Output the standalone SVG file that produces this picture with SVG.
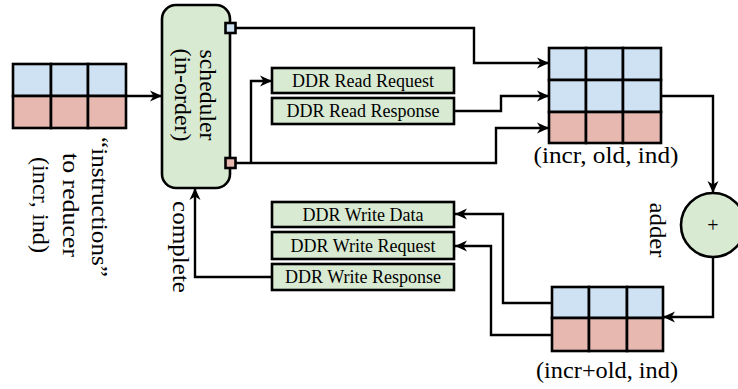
<svg xmlns="http://www.w3.org/2000/svg" width="738" height="389" viewBox="0 0 738 389">
  <defs>
    <marker id="arrow" markerUnits="userSpaceOnUse" markerWidth="16" markerHeight="14" refX="13" refY="7" orient="auto">
      <path d="M1,1.5 L13,7 L1,12.5 L4.5,7 z" fill="#000"/>
    </marker>
    <style>
      .cell-blue { fill: #cfe2f3; stroke: #000; stroke-width: 2.6; }
      .cell-red { fill: #e6b8af; stroke: #000; stroke-width: 2.6; }
      .green { fill: #d9ead3; stroke: #000; stroke-width: 2.6; }
      .wire { fill: none; stroke: #000; stroke-width: 2.4; stroke-linejoin: miter; }
      .arr { marker-end: url(#arrow); }
      .big { font-family: "Liberation Serif", "Times New Roman", serif; font-size: 23px; fill: #000; }
      .box { font-family: "Liberation Serif", "Times New Roman", serif; font-size: 18px; fill: #000; text-anchor: middle; }
    </style>
  </defs>

  <!-- connectors -->
  <g id="connectors">
    <path class="wire arr" d="M126,96 H162"/>
    <path class="wire arr" d="M236,28 H474 V63 H549"/>
    <path class="wire arr" d="M236,163 H496 V128 H549"/>
    <path class="wire arr" d="M251,163 V81 H272"/>
    <path class="wire arr" d="M454,111 H501 V96 H549"/>
    <path class="wire arr" d="M661,96 H713 V193"/>
    <path class="wire arr" d="M713,257 V317 H663"/>
    <path class="wire arr" d="M552,303 H503 V214 H455"/>
    <path class="wire arr" d="M552,335 H491 V246 H455"/>
    <path class="wire arr" d="M272,277 H195 V188"/>
  </g>

  <!-- input queue of instructions -->
  <g id="input-queue">
    <rect class="cell-blue" x="13" y="64" width="38" height="32"/>
    <rect class="cell-blue" x="51" y="64" width="37" height="32"/>
    <rect class="cell-blue" x="88" y="64" width="38" height="32"/>
    <rect class="cell-red" x="13" y="96" width="38" height="32"/>
    <rect class="cell-red" x="51" y="96" width="37" height="32"/>
    <rect class="cell-red" x="88" y="96" width="38" height="32"/>
    <g class="big" text-anchor="middle">
      <text transform="translate(92,207) rotate(90)" textLength="140" lengthAdjust="spacingAndGlyphs">“instructions”</text>
      <text transform="translate(63,205) rotate(90)" textLength="104" lengthAdjust="spacingAndGlyphs">to reducer</text>
      <text transform="translate(33,205) rotate(90)" textLength="96" lengthAdjust="spacingAndGlyphs">(incr, ind)</text>
    </g>
  </g>

  <!-- scheduler -->
  <g id="scheduler">
    <rect class="green" x="162" y="5" width="68" height="183" rx="14"/>
    <rect class="cell-blue" x="225.5" y="23" width="10" height="10" stroke-width="2"/>
    <rect class="cell-red" x="225.5" y="158" width="10" height="10" stroke-width="2"/>
    <g class="big" text-anchor="middle">
      <text transform="translate(200,95) rotate(90)" textLength="91" lengthAdjust="spacingAndGlyphs">scheduler</text>
      <text transform="translate(175,95) rotate(90)" textLength="93" lengthAdjust="spacingAndGlyphs">(in-order)</text>
    </g>
  </g>

  <g id="complete-label">
    <text class="big" text-anchor="middle" transform="translate(173,247) rotate(90)" textLength="92" lengthAdjust="spacingAndGlyphs">complete</text>
  </g>

  <!-- DDR read channels -->
  <g id="ddr-read-request">
    <rect class="green" x="272" y="68" width="182" height="25"/>
    <text class="box" x="363" y="86.5">DDR Read Request</text>
  </g>
  <g id="ddr-read-response">
    <rect class="green" x="272" y="98" width="182" height="26"/>
    <text class="box" x="363" y="117">DDR Read Response</text>
  </g>

  <!-- DDR write channels -->
  <g id="ddr-write-data">
    <rect class="green" x="272" y="202" width="182" height="25"/>
    <text class="box" x="363" y="220.5">DDR Write Data</text>
  </g>
  <g id="ddr-write-request">
    <rect class="green" x="272" y="232" width="182" height="27"/>
    <text class="box" x="363" y="251.5">DDR Write Request</text>
  </g>
  <g id="ddr-write-response">
    <rect class="green" x="272" y="264" width="182" height="26"/>
    <text class="box" x="363" y="283">DDR Write Response</text>
  </g>

  <!-- operand buffer (incr, old, ind) -->
  <g id="operand-buffer">
    <rect class="cell-blue" x="549" y="48" width="37" height="32"/>
    <rect class="cell-blue" x="586" y="48" width="37" height="32"/>
    <rect class="cell-blue" x="623" y="48" width="38" height="32"/>
    <rect class="cell-blue" x="549" y="80" width="37" height="32"/>
    <rect class="cell-blue" x="586" y="80" width="37" height="32"/>
    <rect class="cell-blue" x="623" y="80" width="38" height="32"/>
    <rect class="cell-red" x="549" y="112" width="37" height="31"/>
    <rect class="cell-red" x="586" y="112" width="37" height="31"/>
    <rect class="cell-red" x="623" y="112" width="38" height="31"/>
    <text class="big" x="606" y="163" text-anchor="middle" textLength="145" lengthAdjust="spacingAndGlyphs">(incr, old, ind)</text>
  </g>

  <!-- adder -->
  <g id="adder">
    <circle class="green" cx="713" cy="225" r="32"/>
    <text x="713" y="232" text-anchor="middle" style="font-family: 'Liberation Serif', serif; font-size: 20px;">+</text>
    <text class="big" text-anchor="middle" transform="translate(650,230) rotate(90)" textLength="55" lengthAdjust="spacingAndGlyphs">adder</text>
  </g>

  <!-- result buffer (incr+old, ind) -->
  <g id="result-buffer">
    <rect class="cell-blue" x="552" y="287" width="37" height="31"/>
    <rect class="cell-blue" x="589" y="287" width="38" height="31"/>
    <rect class="cell-blue" x="627" y="287" width="36" height="31"/>
    <rect class="cell-red" x="552" y="318" width="37" height="33"/>
    <rect class="cell-red" x="589" y="318" width="38" height="33"/>
    <rect class="cell-red" x="627" y="318" width="36" height="33"/>
    <text class="big" x="607" y="378" text-anchor="middle" textLength="142" lengthAdjust="spacingAndGlyphs">(incr+old, ind)</text>
  </g>
</svg>
